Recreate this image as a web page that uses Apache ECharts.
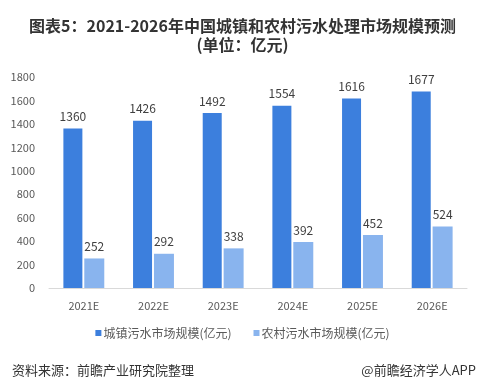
<!DOCTYPE html>
<html><head><meta charset="utf-8">
<script src="https://cdn.jsdelivr.net/npm/echarts@6/dist/echarts.min.js"></script>
<style>html,body{margin:0;padding:0;background:#fff;}#c{width:485px;height:387px;}</style>
</head><body><div id="c"></div>
<script>
const categories = ['2021E','2022E','2023E','2024E','2025E','2026E'];
const urbanValues = [1360,1426,1492,1554,1616,1677];
const ruralValues = [252,292,338,392,452,524];
const yTicks = {min:0, max:1800, interval:200};
const seriesNames = ['城镇污水市场规模(亿元)','农村污水市场规模(亿元)'];

const chart = echarts.init(document.getElementById('c'));
const font = '"Microsoft YaHei","Noto Sans CJK SC",sans-serif';
chart.setOption({
  animation:false,
  title:[{
    text:'图表5：2021-2026年中国城镇和农村污水处理市场规模预测\n(单位：亿元)',
    left:'center', top:11,
    textStyle:{fontSize:16,fontWeight:'bold',color:'#333',fontFamily:font,lineHeight:19}
  },{
    text:'资料来源：前瞻产业研究院整理', left:7, top:359,
    textStyle:{fontSize:13,fontWeight:'normal',color:'#333',fontFamily:font}
  },{
    text:'@前瞻经济学人APP', right:4, top:359,
    textStyle:{fontSize:13,fontWeight:'normal',color:'#333',fontFamily:font}
  }],
  grid:{left:49,right:18,top:77,bottom:99},
  legend:{
    data:seriesNames, top:322, left:'center', itemWidth:6, itemHeight:6, itemGap:22,
    icon:'rect',
    textStyle:{fontSize:12,color:'#595959',fontFamily:font,padding:[0,0,0,-3]}
  },
  xAxis:{
    type:'category', data:categories,
    axisLine:{lineStyle:{color:'#d9d9d9'}}, axisTick:{show:false},
    axisLabel:{fontSize:11,color:'#595959',margin:12,fontFamily:font}
  },
  yAxis:{
    type:'value', min:yTicks.min, max:yTicks.max, interval:yTicks.interval,
    splitLine:{show:false}, axisLine:{show:false}, axisTick:{show:false},
    axisLabel:{fontSize:11,color:'#595959',margin:14,fontFamily:font,formatter:function(v){return String(v);}}
  },
  series:[{
    name:seriesNames[0], type:'bar', data:urbanValues, barWidth:19, barGap:'10%',
    itemStyle:{color:'#3c7fdd'},
    label:{show:true,position:'top',distance:6,fontSize:12,color:'#404040',fontFamily:font}
  },{
    name:seriesNames[1], type:'bar', data:ruralValues, barWidth:20,
    itemStyle:{color:'#89b4ee'},
    label:{show:true,position:'top',distance:6,fontSize:12,color:'#404040',fontFamily:font}
  }]
});
</script></body></html>
